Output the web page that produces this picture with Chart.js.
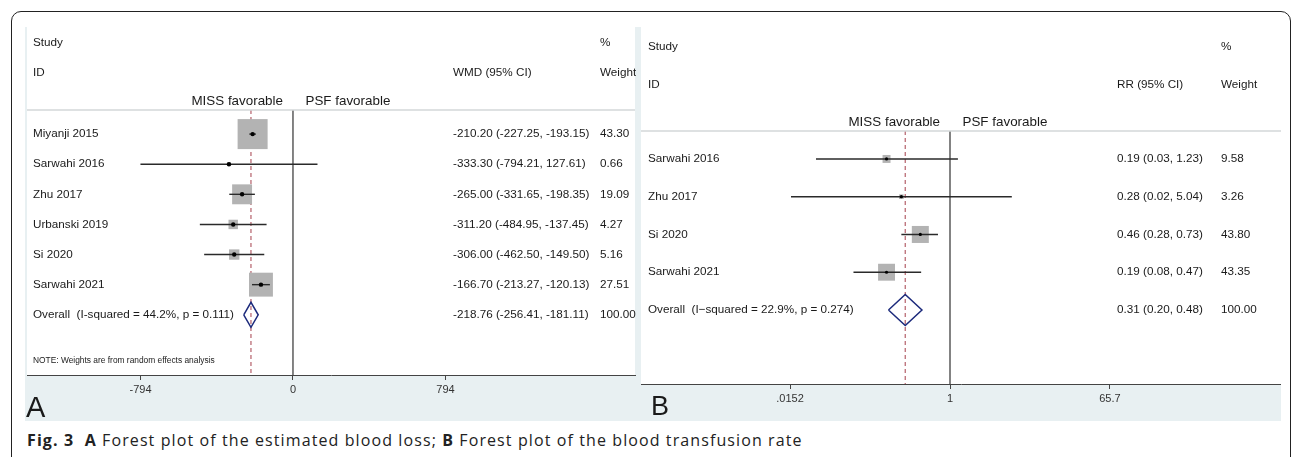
<!DOCTYPE html>
<html>
<head>
<meta charset="utf-8">
<script src="https://cdn.jsdelivr.net/npm/chart.js@4.4.0/dist/chart.umd.min.js"></script>
<style>
  html, body { margin: 0; padding: 0; background: #fff; width: 1292px; height: 457px; overflow: hidden; }
  #frame { position: absolute; left: 11px; top: 11px; width: 1278px; height: 480px; border: 1px solid #222; border-radius: 10px; }
  #wrapA { position: absolute; left: 25px; top: 27px; width: 615px; height: 394px; }
  #wrapB { position: absolute; left: 636px; top: 27px; width: 645px; height: 394px; }
  #caption { position: absolute; left: 27px; top: 430px; font: 16px "Open Sans", sans-serif; letter-spacing: 1.1px; color: #222; white-space: nowrap; line-height: 20px; }
  #caption b { font-weight: 700; letter-spacing: 1.1px; }
</style>
</head>
<body>
<div id="frame"></div>
<div id="wrapA"><canvas id="chartA" width="615" height="394"></canvas></div>
<div id="wrapB"><canvas id="chartB" width="645" height="394"></canvas></div>
<div id="caption"><b>Fig. 3</b>&nbsp;&nbsp;<b>A</b> Forest plot of the estimated blood loss; <b>B</b> Forest plot of the blood transfusion rate</div>

<script>
// Panel A - estimated blood loss (WMD)
const studiesA = ['Miyanji 2015', 'Sarwahi 2016', 'Zhu 2017', 'Urbanski 2019', 'Si 2020', 'Sarwahi 2021'];
const wmdA = [-210.20, -333.30, -265.00, -311.20, -306.00, -166.70];
const lowA = [-227.25, -794.21, -331.65, -484.95, -462.50, -213.27];
const highA = [-193.15, 127.61, -198.35, -137.45, -149.50, -120.13];
const weightA = [43.30, 0.66, 19.09, 4.27, 5.16, 27.51];
const overallA = [-218.76, -256.41, -181.11];   // estimate, low, high
const overallLabelA = 'Overall  (I-squared = 44.2%, p = 0.111)';
const ticksA = [-794, 0, 794];

// Panel B - blood transfusion rate (RR)
const studiesB = ['Sarwahi 2016', 'Zhu 2017', 'Si 2020', 'Sarwahi 2021'];
const rrB = [0.19, 0.28, 0.46, 0.19];
const lowB = [0.03, 0.0156, 0.28, 0.08];
const highB = [1.23, 5.04, 0.73, 0.47];
const weightB = [9.58, 3.26, 43.80, 43.35];
const overallB = [0.31, 0.20, 0.48];
const overallLabelB = 'Overall  (I\u2212squared = 22.9%, p = 0.274)';
const ticksB = [0.0152, 1, 65.7];

const FONT = '"Liberation Sans", Arial, sans-serif';
const TXT = '#1a1a1a';

function fmtCI(e, l, h) {
  return e.toFixed(2) + ' (' + l.toFixed(2) + ', ' + h.toFixed(2) + ')';
}

function forest(id, cfg) {
  const n = cfg.studies.length;
  const [oe, ol, oh] = cfg.overall;
  const pts = cfg.est.map((v, i) => ({ x: v, y: i }));
  const datasets = [];

  datasets.push({ data: pts, pointStyle: 'circle', pointRadius: cfg.dotR, backgroundColor: '#000', borderWidth: 0, order: 1 });
  cfg.low.forEach((lo, i) => {
    datasets.push({ data: [{ x: lo, y: i }, { x: cfg.high[i], y: i }], showLine: true,
      borderColor: '#2a2a2a', borderWidth: 1.4, pointRadius: 0, order: 2 });
  });
  datasets.push({
    data: [{ x: ol, y: n }, { x: oe, y: n - cfg.dh }, { x: oh, y: n }, { x: oe, y: n + cfg.dh }, { x: ol, y: n }],
    showLine: true, borderColor: '#1c2a7c', borderWidth: 1.5, pointRadius: 0, order: 2
  });
  datasets.push({ data: pts, pointStyle: 'rect', pointRadius: cfg.weight.map(w => cfg.box * Math.sqrt(w) / Math.SQRT2),
    backgroundColor: '#b3b3b3', borderWidth: 0, order: 3 });
  datasets.push({ data: [{ x: cfg.nullValue, y: cfg.yMin }, { x: cfg.nullValue, y: cfg.yMax }], showLine: true,
    borderColor: '#333', borderWidth: 1.2, pointRadius: 0, order: 4 });
  datasets.push({ data: [{ x: oe, y: cfg.yMin }, { x: oe, y: cfg.yMax }], showLine: true,
    borderColor: '#b5606a', borderWidth: 1.2, borderDash: [4, 3], pointRadius: 0, order: 4 });

  const textPlugin = {
    id: 'forestText',
    beforeDraw(chart) {
      const c = chart.ctx, a = chart.chartArea;
      c.save();
      c.fillStyle = '#e8f0f2';
      c.fillRect(0, 0, chart.width, chart.height);
      c.fillStyle = '#fff';
      c.fillRect(a.left, 0, a.right - a.left, a.bottom);
      c.restore();
    },
    afterDraw(chart) {
      const c = chart.ctx, a = chart.chartArea, y = chart.scales.y, x = chart.scales.x;
      c.save();
      // separator under the header
      c.strokeStyle = '#d3d7d9';
      c.lineWidth = 1.5;
      c.beginPath(); c.moveTo(a.left, a.top); c.lineTo(a.right, a.top); c.stroke();

      c.fillStyle = TXT;
      c.textBaseline = 'middle';
      c.font = '11.7px ' + FONT;
      c.textAlign = 'left';
      c.fillText('Study', cfg.colStudy, cfg.hy1);
      c.fillText('ID', cfg.colStudy, cfg.hy2);
      c.fillText('%', cfg.colW, cfg.hy1);
      c.fillText(cfg.effLabel, cfg.colEff, cfg.hy2);
      c.fillText('Weight', cfg.colW, cfg.hy2);

      for (let i = 0; i < n; i++) {
        const py = y.getPixelForValue(i);
        c.fillText(cfg.studies[i], cfg.colStudy, py);
        c.fillText(fmtCI(cfg.est[i], cfg.low[i], cfg.high[i]), cfg.colEff, py);
        c.fillText(cfg.weight[i].toFixed(2), cfg.colW, py);
      }
      const oy = y.getPixelForValue(n);
      c.fillText(cfg.overallLabel, cfg.colStudy, oy);
      c.fillText(fmtCI(oe, ol, oh), cfg.colEff, oy);
      c.fillText((100).toFixed(2), cfg.colW, oy);

      if (cfg.note) {
        c.font = '8.4px ' + FONT;
        c.fillText(cfg.note, cfg.colStudy, y.getPixelForValue(cfg.noteRow));
      }

      const zx = x.getPixelForValue(cfg.nullValue);
      c.font = '13.4px ' + FONT;
      c.textAlign = 'right';
      c.fillText('MISS favorable', zx - 10, a.top - 9);
      c.textAlign = 'left';
      c.fillText('PSF favorable', zx + 12.5, a.top - 9);

      c.font = cfg.letterSize + 'px ' + FONT;
      c.textBaseline = 'alphabetic';
      c.fillText(cfg.letter, cfg.letterX, cfg.letterY);
      c.restore();
    }
  };

  return new Chart(document.getElementById(id), {
    type: 'scatter',
    data: { datasets: datasets },
    options: {
      responsive: false,
      animation: false,
      events: [],
      devicePixelRatio: 1,
      layout: { padding: cfg.padding, autoPadding: false },
      plugins: { legend: { display: false }, tooltip: { enabled: false } },
      scales: {
        x: {
          type: cfg.xType,
          min: cfg.xMin,
          max: cfg.xMax,
          bounds: 'data',
          afterBuildTicks: s => { s.ticks = cfg.ticks.map(v => ({ value: v })); },
          afterFit: s => { s.height = cfg.axisH; s.paddingLeft = 0; s.paddingRight = 0; },
          ticks: {
            autoSkip: false, maxRotation: 0, padding: 3, color: '#333',
            font: { family: FONT, size: 11 },
            callback: v => String(v).replace(/^0\./, '.')
          },
          grid: { drawOnChartArea: false, drawTicks: true, tickLength: 5, color: '#444' },
          border: { display: true, color: '#444', width: 1 }
        },
        y: { type: 'linear', reverse: true, min: cfg.yMin, max: cfg.yMax, display: false }
      }
    },
    plugins: [textPlugin]
  });
}

forest('chartA', {
  studies: studiesA, est: wmdA, low: lowA, high: highA, weight: weightA,
  overall: overallA, overallLabel: overallLabelA, ticks: ticksA,
  effLabel: 'WMD (95% CI)', note: 'NOTE: Weights are from random effects analysis', noteRow: 7.53,
  xType: 'linear', xMin: -1385, xMax: 1781, nullValue: 0,
  yMin: -0.8, yMax: 8.0, dh: 0.415, box: 4.56, dotR: 2.2,
  padding: { left: 2, right: 5, top: 83, bottom: 0 }, axisH: 46,
  colStudy: 8, colEff: 428, colW: 575, hy1: 16, hy2: 46,
  letter: 'A', letterSize: 29, letterX: 1, letterY: 390
});

forest('chartB', {
  studies: studiesB, est: rrB, low: lowB, high: highB, weight: weightB,
  overall: overallB, overallLabel: overallLabelB, ticks: ticksB,
  effLabel: 'RR (95% CI)', note: null,
  xType: 'logarithmic', xMin: 3.08e-4, xMax: 5773, nullValue: 1,
  yMin: -0.74, yMax: 5.96, dh: 0.41, box: 2.57, dotR: 1.6,
  padding: { left: 5, right: 0, top: 104, bottom: 0 }, axisH: 37,
  colStudy: 12, colEff: 481, colW: 585, hy1: 20, hy2: 58,
  letter: 'B', letterSize: 27, letterX: 15, letterY: 388
});
</script>
</body>
</html>
